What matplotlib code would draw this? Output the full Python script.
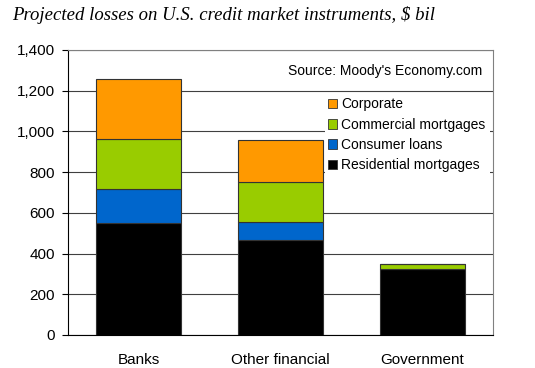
import matplotlib
matplotlib.use("Agg")
import matplotlib.pyplot as plt
from matplotlib.patches import Patch, Rectangle
import numpy as np

# data, $ bil
categories = ["Banks", "Other financial", "Government"]
residential = [550, 465, 322]
consumer = [165, 92, 0]
commercial = [250, 193, 25]
corporate = [290, 210, 0]

series_names = ["Residential mortgages", "Consumer loans", "Commercial mortgages", "Corporate"]
series_colors = ["#000000", "#0066CC", "#99CC00", "#FF9900"]
yticks = [0, 200, 400, 600, 800, 1000, 1200, 1400]

plt.rcParams['font.family'] = ['Liberation Sans', 'DejaVu Sans']

fig = plt.figure(figsize=(5.35, 3.68), dpi=100)
ax = fig.add_axes([0.1265, 0.0897, 0.795, 0.7745])

x = np.arange(len(categories))
bottom = np.zeros(len(categories))
for vals, name, col in zip([residential, consumer, commercial, corporate], series_names, series_colors):
    vals = np.array(vals, dtype=float)
    ax.bar(x, vals, width=0.6, bottom=bottom, color=col, edgecolor="#333333",
           linewidth=0.8, label=name, zorder=2)
    bottom += vals

ax.set_xlim(-0.5, 2.5)
ax.set_ylim(0, 1400)
ax.set_yticks(yticks)
ax.set_yticklabels(["{:,}".format(v) for v in yticks], fontsize=11)
ax.set_xticks(x)
ax.set_xticklabels(categories, fontsize=11)
ax.tick_params(axis='x', length=0, pad=13)
ax.tick_params(axis='y', length=4, width=0.8, pad=5, direction='out')

# gridlines
ax.set_axisbelow(True)
ax.yaxis.grid(True, color="#404040", linewidth=0.8)
for s in ["left", "bottom"]:
    ax.spines[s].set_color("#000000")
for s in ["top", "right"]:
    ax.spines[s].set_color("#808080")

# white patch behind legend hides the grid
ax.add_patch(Rectangle((0.605, 0.48), 0.388, 0.366, transform=ax.transAxes,
                       facecolor="white", edgecolor="none", zorder=1.5))

handles = [Patch(facecolor=c, edgecolor="#333333", linewidth=0.6) for c in series_colors][::-1]
leg = ax.legend(handles, series_names[::-1], loc="upper left", bbox_to_anchor=(0.605, 0.843),
                frameon=False, fontsize=10, handlelength=0.7, handleheight=0.7,
                handletextpad=0.25, labelspacing=0.45, borderaxespad=0, borderpad=0.2)
leg.set_zorder(3)

ax.text(0.975, 0.925, "Source: Moody's Economy.com", transform=ax.transAxes,
        ha="right", va="center", fontsize=10)

fig.text(0.022, 0.958, "Projected losses on U.S. credit market instruments, $ bil",
         family=["Liberation Serif", "DejaVu Serif"], style="italic", fontsize=13.5,
         ha="left", va="center")

fig.savefig("out.png", dpi=100)
